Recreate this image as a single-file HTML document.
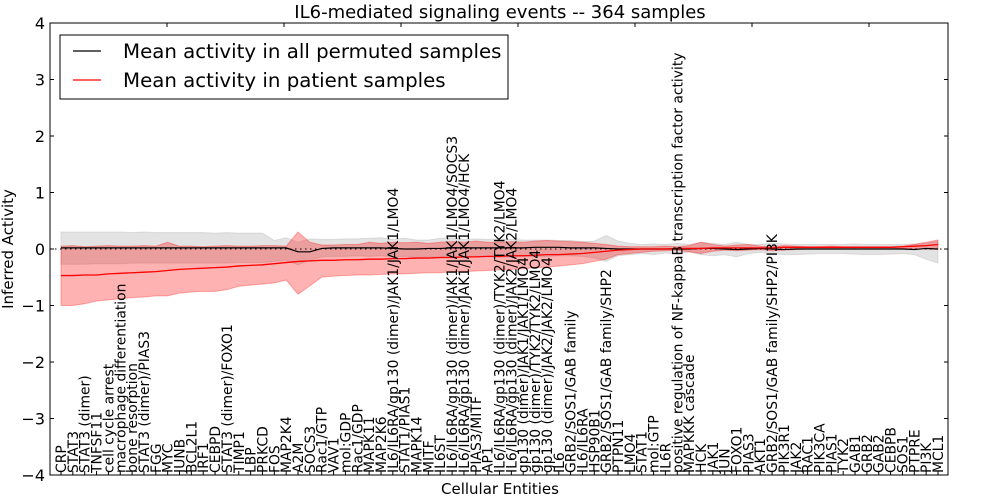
<!DOCTYPE html>
<html><head><meta charset="utf-8"><style>
html,body{margin:0;padding:0;background:#fff;}
svg{display:block;font-family:"DejaVu Sans","Liberation Sans",sans-serif;}
</style></head><body>
<svg id="chart" width="1000" height="500"></svg>
<script>
const categories=["CRP","STAT3","STAT3 (dimer)","TNFSF11","cell cycle arrest","macrophage differentiation","bone resorption","STAT3 (dimer)/PIAS3","FGG","MYC","JUNB","BCL2L1","IRF1","CEBPD","STAT3 (dimer)/FOXO1","TIMP1","LBP","PRKCD","FOS","MAP2K4","A2M","SOCS3","Rac1/GTP","VAV1","mol:GDP","Rac1/GDP","MAPK11","MAP2K6","IL6/IL6RA/gp130 (dimer)/JAK1/JAK1/LMO4","STAT1/PIAS1","MAPK14","MITF","IL6ST","IL6/IL6RA/gp130 (dimer)/JAK1/JAK1/LMO4/SOCS3","IL6/IL6RA/gp130 (dimer)/JAK1/JAK1/LMO4/HCK","PIAS3/MITF","AP1","IL6/IL6RA/gp130 (dimer)/TYK2/TYK2/LMO4","IL6/IL6RA/gp130 (dimer)/JAK2/JAK2/LMO4","gp130 (dimer)/JAK1/JAK1/LMO4","gp130 (dimer)/TYK2/TYK2/LMO4","gp130 (dimer)/JAK2/JAK2/LMO4","IL6","GRB2/SOS1/GAB family","IL6/IL6RA","HSP90B1","GRB2/SOS1/GAB family/SHP2","PTPN11","LMO4","STAT1","mol:GTP","IL6R","positive regulation of NF-kappaB transcription factor activity","MAPKKK cascade","HCK","JAK1","JUN","FOXO1","PIAS3","AKT1","GRB2/SOS1/GAB family/SHP2/PI3K","PIK3R1","JAK2","RAC1","PIK3CA","PIAS1","TYK2","GAB1","GRB2","GAB2","CEBPB","SOS1","PTPRE","PI3K","MCL1"];
const redMean=[-0.47,-0.47,-0.46,-0.46,-0.44,-0.43,-0.42,-0.41,-0.40,-0.38,-0.36,-0.35,-0.34,-0.33,-0.32,-0.30,-0.29,-0.28,-0.26,-0.24,-0.22,-0.21,-0.20,-0.20,-0.19,-0.19,-0.18,-0.18,-0.17,-0.17,-0.16,-0.16,-0.15,-0.15,-0.14,-0.14,-0.13,-0.13,-0.12,-0.12,-0.11,-0.10,-0.10,-0.09,-0.08,-0.06,-0.04,-0.02,-0.01,0.0,0.0,0.0,0.01,0.01,0.01,0.02,0.02,0.02,0.02,0.02,0.02,0.03,0.03,0.03,0.03,0.03,0.03,0.03,0.03,0.03,0.03,0.04,0.05,0.06,0.08];
const redLow=[-1.0,-1.0,-0.97,-0.92,-0.90,-0.88,-0.86,-0.85,-0.83,-0.83,-0.78,-0.76,-0.75,-0.75,-0.72,-0.66,-0.64,-0.62,-0.60,-0.55,-0.80,-0.65,-0.50,-0.48,-0.47,-0.46,-0.46,-0.45,-0.44,-0.44,-0.43,-0.42,-0.42,-0.40,-0.40,-0.39,-0.38,-0.37,-0.36,-0.35,-0.33,-0.32,-0.30,-0.28,-0.26,-0.22,-0.18,-0.10,-0.08,-0.06,-0.04,-0.03,-0.02,-0.05,-0.08,-0.04,-0.02,-0.03,-0.02,-0.01,-0.03,-0.02,-0.01,0,0,0,0,0,0,0,0,0.01,0,0,-0.01];
const redHigh=[0.05,0.06,0.04,0.05,0.06,0.05,0.05,0.06,0.05,0.12,0.05,0.05,0.04,0.05,0.06,0.05,0.05,0.06,0.06,0.05,0.30,0.12,0.07,0.07,0.08,0.08,0.12,0.10,0.12,0.11,0.12,0.10,0.12,0.13,0.12,0.14,0.12,0.12,0.13,0.12,0.14,0.15,0.14,0.13,0.12,0.10,0.08,0.05,0.04,0.04,0.04,0.05,0.04,0.06,0.12,0.08,0.05,0.07,0.08,0.05,0.04,0.06,0.05,0.04,0.04,0.05,0.04,0.04,0.04,0.04,0.04,0.05,0.08,0.12,0.16];
const grayMean=[0.02,0.02,0.02,0.02,0.02,0.02,0.02,0.02,0.02,0.02,0.02,0.02,0.02,0.02,0.02,0.02,0.02,0.02,0.02,0.02,-0.05,-0.05,0.01,0.02,0.02,0.02,0.02,0.02,0.01,0.0,0.0,0.01,0.01,0.02,0.02,0.02,0.02,0.02,0.02,0.02,0.03,0.03,0.03,0.02,0.02,0.02,0.01,0.0,0.0,0.0,0.0,0.0,0.0,0.0,0.01,0.01,0.0,-0.01,0.0,0.01,0.0,-0.01,0.0,0.0,0.0,0.0,0.0,0.0,0.0,0.0,0.0,0.0,-0.01,0.01,0.0];
const grayLow=[-0.27,-0.27,-0.27,-0.26,-0.26,-0.26,-0.25,-0.25,-0.25,-0.25,-0.25,-0.25,-0.25,-0.25,-0.25,-0.24,-0.24,-0.24,-0.22,-0.20,-0.28,-0.20,-0.14,-0.13,-0.13,-0.12,-0.13,-0.12,-0.14,-0.13,-0.15,-0.14,-0.13,-0.15,-0.14,-0.13,-0.14,-0.15,-0.14,-0.13,-0.14,-0.13,-0.12,-0.12,-0.13,-0.16,-0.22,-0.12,-0.10,-0.08,-0.10,-0.07,-0.09,-0.05,-0.10,-0.12,-0.10,-0.14,-0.08,-0.06,-0.08,-0.10,-0.10,-0.09,-0.08,-0.08,-0.08,-0.09,-0.10,-0.10,-0.09,-0.08,-0.10,-0.18,-0.25];
const grayHigh=[0.30,0.30,0.30,0.30,0.30,0.30,0.29,0.30,0.29,0.29,0.29,0.29,0.29,0.28,0.29,0.28,0.28,0.28,0.15,0.20,0.12,0.18,0.17,0.17,0.18,0.18,0.19,0.20,0.17,0.19,0.16,0.16,0.19,0.20,0.17,0.18,0.17,0.18,0.17,0.16,0.16,0.16,0.15,0.15,0.13,0.14,0.24,0.14,0.10,0.08,0.09,0.08,0.10,0.08,0.12,0.10,0.08,0.12,0.08,0.08,0.10,0.09,0.08,0.08,0.08,0.08,0.08,0.09,0.08,0.08,0.08,0.08,0.09,0.10,0.14];
const yTicks=[-4,-3,-2,-1,0,1,2,3,4];

const NS="http://www.w3.org/2000/svg";
const svg=document.getElementById('chart');
const L=50,R=948,T=23,B=475,X0=61,X1=938;
const xs=i=>X0+i*(X1-X0)/(categories.length-1);
const ys=v=>T+(4-v)*(B-T)/8;
function mk(tag,attrs,parent){const e=document.createElementNS(NS,tag);for(const k in attrs)e.setAttribute(k,attrs[k]);(parent||svg).appendChild(e);return e;}
function band(lo,hi,fill,op,name){
  let d='M'+lo.map((v,i)=>xs(i)+','+ys(v)).join('L');
  for(let i=hi.length-1;i>=0;i--)d+='L'+xs(i)+','+ys(hi[i]);
  const p=mk('path',{d:d+'Z',fill:fill,'fill-opacity':op,stroke:fill,'stroke-opacity':op,'stroke-width':1});
  
  
}
function line(vals,color,w,name,dash){
  const p=mk('path',{d:'M'+vals.map((v,i)=>xs(i)+','+ys(v)).join('L'),fill:'none',stroke:color,'stroke-width':w});
  if(dash)p.setAttribute('stroke-dasharray',dash);
  
  
}
band(grayLow,grayHigh,'#b0b0b0',0.35,'permuted-band');
band(redLow,redHigh,'#ff0000',0.3,'patient-band');
const z=mk('line',{x1:L,x2:R,y1:ys(0),y2:ys(0),stroke:'#000','stroke-width':1,'stroke-dasharray':'1.5,3.5'});


line(grayMean,'#000',1.2,'permuted-mean-line');
line(redMean,'#ff0000',1.3,'patient-mean-line');
const fr=mk('rect',{x:L,y:T,width:R-L,height:B-T,fill:'none',stroke:'#000','stroke-width':1});


yTicks.forEach(v=>{
  const y=ys(v);
  mk('line',{x1:L,x2:L+4,y1:y,y2:y,stroke:'#000'});
  mk('line',{x1:R-4,x2:R,y1:y,y2:y,stroke:'#000'});
  const t=mk('text',{x:L-5,y:y+6,'text-anchor':'end','font-size':16});
  t.textContent=(v<0?'\u2212':'')+Math.abs(v);
  
  
});
for(let x=167;x<R;x+=117){mk('line',{x1:x,x2:x,y1:T,y2:T+4,stroke:'#000'});}
categories.forEach((c,i)=>{
  const x=xs(i)+5;
  const t=mk('text',{x:x,y:B-2,transform:'rotate(-90 '+x+' '+(B-2)+')','font-size':13.9});
  t.textContent=c;
  
  
  mk('line',{x1:xs(i),x2:xs(i),y1:B,y2:B-4,stroke:'#000'});
});
const ti=mk('text',{x:500,y:18,'text-anchor':'middle','font-size':18});
ti.textContent='IL6-mediated signaling events -- 364 samples';


const xl=mk('text',{x:500,y:494,'text-anchor':'middle','font-size':15});
xl.textContent='Cellular Entities';


const yl=mk('text',{x:13,y:249,'text-anchor':'middle','font-size':15,transform:'rotate(-90 13 249)'});
yl.textContent='Inferred Activity';


const lg=mk('g',{});


mk('rect',{x:60,y:35,width:448,height:64,fill:'#fff',stroke:'#000','stroke-width':1},lg);
[['Mean activity in all permuted samples','#000',51],['Mean activity in patient samples','#ff0000',80]].forEach(([s,c,y])=>{
  const g=mk('g',{},lg);
  
  
  mk('line',{x1:73,x2:101,y1:y,y2:y,stroke:c,'stroke-width':1.3},g);
  const t=mk('text',{x:123,y:y+7,'font-size':19.8},g);
  t.textContent=s;
});
</script>
</body></html>
